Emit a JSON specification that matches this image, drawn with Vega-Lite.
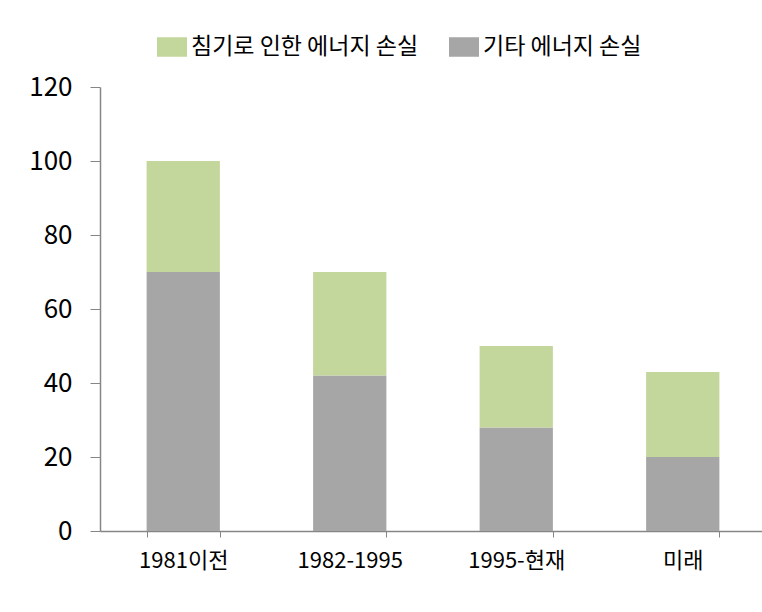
{
  "$schema": "https://vega.github.io/schema/vega-lite/v6.json",
  "width": 666,
  "height": 444,
  "autosize": {"type": "none"},
  "padding": {"left": 100, "top": 87, "right": 0, "bottom": 81},
  "background": "white",
  "config": {
    "font": "Noto Sans CJK KR",
    "view": {"stroke": null}
  },
  "data": {
    "values": [
      {"period": "1981이전", "type": "기타 에너지 손실", "value": 70},
      {"period": "1981이전", "type": "침기로 인한 에너지 손실", "value": 30},
      {"period": "1982-1995", "type": "기타 에너지 손실", "value": 42},
      {"period": "1982-1995", "type": "침기로 인한 에너지 손실", "value": 28},
      {"period": "1995-현재", "type": "기타 에너지 손실", "value": 28},
      {"period": "1995-현재", "type": "침기로 인한 에너지 손실", "value": 22},
      {"period": "미래", "type": "기타 에너지 손실", "value": 20},
      {"period": "미래", "type": "침기로 인한 에너지 손실", "value": 23}
    ]
  },
  "mark": {"type": "bar"},
  "encoding": {
    "x": {
      "field": "period",
      "type": "nominal",
      "sort": null,
      "scale": {"paddingInner": 0.56, "paddingOuter": 0.28},
      "axis": {
        "title": null,
        "labelAngle": 0,
        "labelFontSize": 22,
        "labelColor": "#000000",
        "labelPadding": 13,
        "domainColor": "#868686",
        "domainWidth": 1.5,
        "tickColor": "#868686",
        "tickSize": 6,
        "tickBand": "extent"
      }
    },
    "y": {
      "field": "value",
      "type": "quantitative",
      "stack": "zero",
      "scale": {"domain": [0, 120]},
      "axis": {
        "title": null,
        "values": [0, 20, 40, 60, 80, 100, 120],
        "grid": false,
        "labelFontSize": 26,
        "labelColor": "#000000",
        "labelPadding": 18,
        "domainColor": "#868686",
        "domainWidth": 1.5,
        "tickColor": "#868686",
        "tickSize": 10
      }
    },
    "color": {
      "field": "type",
      "type": "nominal",
      "scale": {
        "domain": ["침기로 인한 에너지 손실", "기타 에너지 손실"],
        "range": ["#C3D69B", "#A6A6A6"]
      },
      "legend": {
        "title": null,
        "orient": "none",
        "legendX": 57,
        "legendY": -55,
        "direction": "horizontal",
        "padding": 0,
        "symbolType": "M-1,-0.65H1V0.65H-1Z",
        "symbolSize": 900,
        "symbolStrokeWidth": 0,
        "labelFontSize": 23,
        "labelColor": "#000000",
        "labelOffset": 4,
        "columnPadding": 30,
        "labelLimit": 400
      }
    },
    "order": {"field": "type", "sort": "ascending"}
  }
}
